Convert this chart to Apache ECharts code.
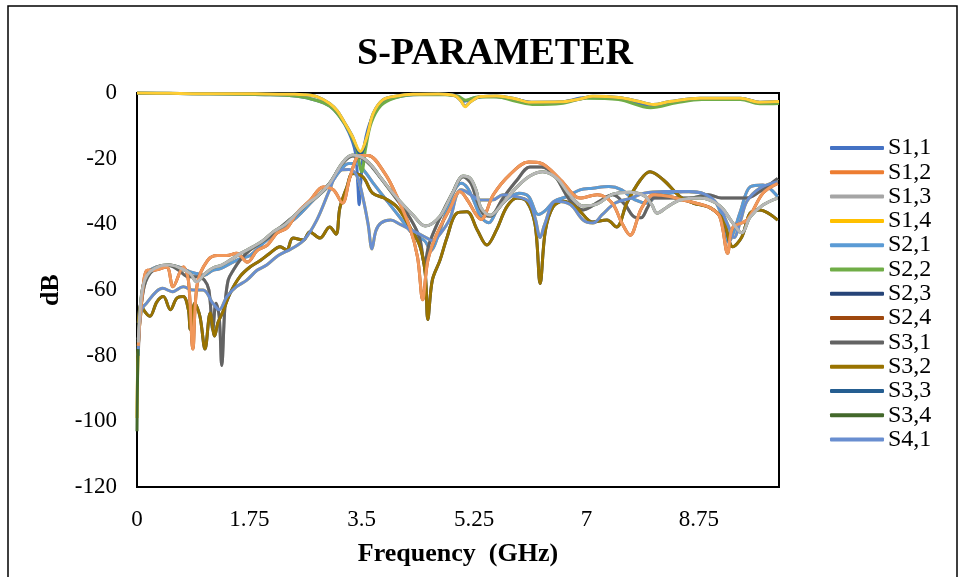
<!DOCTYPE html>
<html><head><meta charset="utf-8">
<script src="https://cdn.jsdelivr.net/npm/echarts@6/dist/echarts.min.js"></script>
<style>html,body{margin:0;padding:0;background:#fff}#c{width:960px;height:577px}</style>
</head><body><div id="c"></div>
<script>
// ---- Data (frequency in GHz, magnitude in dB) ----
const legendNames = ['S1,1','S1,2','S1,3','S1,4','S2,1','S2,2','S2,3','S2,4','S3,1','S3,2','S3,3','S3,4','S4,1'];
const xTicks = [0, 1.75, 3.5, 5.25, 7, 8.75];
const yTicks = [0, -20, -40, -60, -80, -100, -120];

// reflection curves
const S11 = [[0,-0.1],[1,-0.2],[2,-0.5],[2.5,-1],[2.8,-2.3],[3.0,-4],[3.15,-7],[3.3,-12],[3.4,-18],[3.44,-28],[3.46,-34],[3.49,-26],[3.55,-15],[3.65,-8],[3.8,-3.5],[4.0,-1.5],[4.3,-0.5],[4.8,-0.4],[5.0,-1.0],[5.1,-2.5],[5.25,-1.5],[5.5,-1],[5.9,-2],[6.2,-3],[6.6,-2.8],[7.0,-1.4],[7.5,-1.6],[8.0,-3.8],[8.4,-2.7],[8.8,-1.7],[9.4,-1.7],[9.7,-2.9],[10,-2.7]];
const S22 = [[0,-0.1],[1,-0.2],[2,-0.5],[2.5,-1],[2.8,-2.3],[3.0,-4],[3.15,-7],[3.3,-11.5],[3.42,-17],[3.5,-24],[3.56,-17],[3.65,-9],[3.8,-3.8],[4.0,-1.6],[4.3,-0.5],[4.8,-0.5],[5.0,-1],[5.12,-2.2],[5.3,-1.2],[5.6,-1.2],[5.9,-2.5],[6.2,-3.5],[6.6,-3.2],[7.0,-1.6],[7.5,-2],[8.0,-4.5],[8.4,-3],[8.8,-2],[9.4,-2],[9.7,-3.3],[10,-3.2]];
const S33 = [[0,0],[0.5,-0.1],[1,-0.2],[1.5,-0.2],[2,-0.3],[2.4,-0.4],[2.6,-0.5],[2.8,-1.1],[3.0,-3.2],[3.12,-5.5],[3.22,-8.6],[3.35,-13],[3.48,-18.5],[3.58,-13.4],[3.68,-6.2],[3.83,-2.1],[4.05,-0.9],[4.3,-0.4],[4.7,-0.3],[4.95,-0.8],[5.05,-2.5],[5.11,-4.0],[5.2,-2.6],[5.35,-1.1],[5.6,-0.9],[5.9,-1.8],[6.1,-2.8],[6.6,-2.7],[6.9,-1.8],[7.1,-1.0],[7.5,-1.4],[7.8,-2.5],[8.04,-3.5],[8.3,-2.6],[8.77,-1.6],[9.4,-1.6],[9.7,-2.8],[10,-2.6]];
const S44 = [[0,0],[0.5,-0.1],[1,-0.2],[1.5,-0.2],[2,-0.3],[2.4,-0.4],[2.6,-0.5],[2.8,-1.1],[3.0,-3.2],[3.12,-5.5],[3.22,-8.6],[3.35,-13],[3.48,-17.8],[3.58,-13.4],[3.68,-6.2],[3.83,-2.1],[4.05,-0.9],[4.3,-0.4],[4.7,-0.3],[4.95,-0.8],[5.05,-2.5],[5.11,-4.2],[5.2,-2.6],[5.35,-1.1],[5.6,-0.9],[5.9,-1.8],[6.1,-2.8],[6.6,-2.7],[6.9,-1.8],[7.1,-1.0],[7.5,-1.4],[7.8,-2.5],[8.04,-3.5],[8.3,-2.6],[8.77,-1.6],[9.4,-1.6],[9.7,-2.8],[10,-2.6]];

// transmission curves (reciprocal pairs share the same trace)
const P12 = [[0.02,-80],[0.07,-62],[0.15,-55],[0.3,-53],[0.5,-52.4],[0.65,-53],[0.83,-54.5],[0.93,-55],[1.05,-55.5],[1.18,-54],[1.3,-53.5],[1.45,-52],[1.6,-50.5],[1.76,-49.5],[1.95,-46],[2.2,-42],[2.49,-37.8],[2.75,-32.6],[3.0,-28],[3.15,-24],[3.3,-21.5],[3.42,-21.5],[3.55,-24],[3.7,-28],[3.9,-33],[4.1,-38],[4.3,-43],[4.48,-45],[4.58,-48],[4.68,-44],[4.82,-36],[4.95,-29.5],[5.05,-27.5],[5.15,-29],[5.25,-33],[5.35,-37.5],[5.48,-39.5],[5.6,-36],[5.75,-32.5],[5.95,-30.5],[6.1,-31.5],[6.25,-37],[6.35,-36],[6.5,-33],[6.7,-31.5],[6.9,-29.5],[7.1,-29],[7.35,-28.5],[7.55,-29.5],[7.75,-32.5],[7.95,-33.5],[8.1,-31],[8.3,-30.5],[8.6,-30],[8.8,-30.5],[9.0,-33],[9.12,-38],[9.22,-45.5],[9.3,-42],[9.4,-36],[9.55,-28.6],[9.75,-28],[9.98,-31.6]];
const P13 = [[0.02,-75],[0.1,-60],[0.2,-55],[0.36,-53],[0.5,-52.5],[0.65,-54],[0.8,-56],[0.95,-56],[1.05,-57],[1.12,-60],[1.18,-72],[1.23,-64],[1.28,-68],[1.32,-83],[1.37,-65],[1.42,-57],[1.5,-54],[1.6,-51],[1.75,-48],[1.9,-46],[2.05,-44],[2.2,-41.5],[2.35,-39],[2.5,-36.6],[2.65,-33.8],[2.8,-31.6],[3.0,-27.5],[3.2,-21.5],[3.36,-19.2],[3.52,-20],[3.66,-22.5],[3.8,-26],[4.05,-32.5],[4.25,-38],[4.4,-44],[4.48,-52],[4.55,-46],[4.72,-38],[4.9,-31],[5.08,-25.5],[5.2,-27.5],[5.3,-33],[5.4,-37],[5.5,-37.5],[5.7,-32],[5.92,-26.5],[6.12,-22.5],[6.3,-22.5],[6.5,-25],[6.74,-32.6],[6.95,-35.6],[7.2,-33],[7.41,-31],[7.6,-34],[7.75,-37.8],[7.85,-38],[7.95,-35],[8.05,-32],[8.3,-32],[8.6,-32],[8.9,-31],[9.1,-32],[9.3,-32],[9.5,-32],[9.7,-30],[9.98,-26]];
const P14 = [[0.02,-78],[0.07,-66],[0.15,-64],[0.3,-60.5],[0.4,-59.5],[0.55,-60.5],[0.72,-59],[0.87,-60],[1.03,-60],[1.18,-64],[1.28,-66],[1.4,-62],[1.55,-59],[1.71,-57],[1.87,-54],[2.02,-52.4],[2.2,-49.5],[2.4,-47.5],[2.6,-44.8],[2.8,-38.7],[3.0,-29.5],[3.15,-23.5],[3.3,-23.3],[3.42,-25],[3.52,-32],[3.6,-40],[3.66,-47.5],[3.72,-42],[3.8,-39.6],[3.95,-38.7],[4.1,-40],[4.3,-42],[4.5,-44],[4.6,-45],[4.72,-43],[4.88,-38],[4.98,-31],[5.05,-29.5],[5.2,-31],[5.35,-32.6],[5.55,-32.5],[5.7,-31],[5.9,-31.5],[6.1,-33],[6.2,-38],[6.28,-44],[6.35,-40],[6.52,-33],[6.75,-34],[6.95,-38.7],[7.1,-39.6],[7.25,-37],[7.45,-33.5],[7.7,-32],[7.9,-30.5],[8.2,-30],[8.5,-30],[8.8,-30.5],[9.05,-34],[9.2,-40],[9.3,-44],[9.4,-39],[9.5,-33],[9.7,-29],[9.98,-27]];
const P23 = [[0.02,-70],[0.06,-64],[0.1,-66],[0.2,-68],[0.31,-63.6],[0.41,-62],[0.52,-66],[0.62,-62.5],[0.72,-62],[0.8,-66],[0.83,-72],[0.9,-64],[0.98,-68],[1.06,-78],[1.14,-67],[1.21,-74],[1.26,-70],[1.33,-67],[1.45,-61],[1.6,-56],[1.76,-53],[1.92,-51],[2.07,-48.8],[2.23,-46.8],[2.33,-47.8],[2.43,-44.2],[2.59,-44.8],[2.69,-42.3],[2.85,-44.2],[3.0,-40.8],[3.1,-43],[3.16,-35],[3.27,-28.6],[3.36,-24.5],[3.52,-25.6],[3.67,-30.5],[3.85,-32],[4.05,-34.7],[4.25,-40.8],[4.41,-46.8],[4.49,-55],[4.53,-69],[4.6,-57],[4.72,-50.9],[4.83,-43.9],[4.98,-36.6],[5.14,-36.2],[5.3,-41.7],[5.45,-46.3],[5.6,-41.7],[5.76,-34.7],[5.92,-32],[6.07,-33],[6.2,-40],[6.28,-58],[6.36,-42],[6.48,-34.7],[6.64,-33],[6.85,-35],[7.1,-39.3],[7.32,-38.7],[7.47,-40.8],[7.63,-33.5],[7.84,-26.5],[7.99,-24],[8.2,-26.5],[8.46,-31.6],[8.66,-33.5],[8.93,-35],[9.13,-38.7],[9.28,-46.8],[9.42,-43.9],[9.55,-36.6],[9.7,-35.6],[9.98,-38.7]];
const P24 = [[0.02,-77],[0.08,-62],[0.16,-54],[0.25,-54],[0.46,-53],[0.56,-59],[0.72,-53],[0.8,-57],[0.87,-78],[0.94,-58],[1.1,-51],[1.25,-49.5],[1.4,-49.5],[1.55,-48.8],[1.72,-51.5],[1.87,-48],[2.03,-46.3],[2.18,-42.7],[2.34,-41],[2.49,-36.6],[2.7,-32.6],[2.9,-28.6],[3.06,-29.5],[3.2,-33.5],[3.32,-25.5],[3.47,-19],[3.6,-19],[3.86,-24.5],[4.05,-31.6],[4.25,-41],[4.37,-50],[4.45,-63],[4.53,-51],[4.67,-43],[4.88,-35],[5.03,-30],[5.16,-33],[5.28,-37],[5.36,-38.5],[5.55,-31],[5.8,-25],[6.1,-21],[6.28,-21.3],[6.6,-26.5],[6.9,-32],[7.17,-31],[7.4,-33.5],[7.55,-39.5],[7.68,-43.3],[7.86,-35],[8.05,-31],[8.3,-31.5],[8.5,-32.6],[8.7,-33.5],[8.93,-35],[9.08,-37.8],[9.2,-48.8],[9.28,-41],[9.5,-38.7],[9.75,-30.5],[9.98,-27.5]];
const P34 = [[0.02,-76],[0.06,-63],[0.12,-57],[0.2,-54.5],[0.36,-52.7],[0.51,-52.4],[0.67,-53.3],[0.83,-55],[0.93,-57.5],[1.06,-55],[1.18,-53.3],[1.32,-52.4],[1.45,-50.9],[1.6,-49],[1.81,-46.8],[1.96,-45],[2.12,-42.3],[2.31,-40],[2.49,-36.6],[2.65,-33.8],[2.8,-31.6],[3.0,-27.5],[3.21,-21],[3.36,-18.9],[3.52,-19.8],[3.66,-22.2],[3.79,-25.6],[4.05,-32],[4.3,-37.2],[4.49,-40.5],[4.72,-37.5],[4.92,-30.2],[5.08,-25.3],[5.19,-26],[5.28,-29.5],[5.36,-35],[5.5,-37.2],[5.7,-33.5],[5.92,-28.6],[6.12,-25.3],[6.32,-24],[6.54,-26],[6.74,-31],[6.95,-34.4],[7.17,-33.8],[7.41,-30.8],[7.68,-30.2],[7.91,-31.4],[8.02,-34.1],[8.1,-36.6],[8.26,-34.7],[8.46,-32.6],[8.77,-32],[9.08,-34.4],[9.28,-39.6],[9.42,-42.6],[9.55,-37.8],[9.75,-34.1],[9.98,-32]];
// distinct DC points seen at 0 GHz
const S14Start = [[0,-99]];
const S34Start = [[0,-103]];

// ---- Series definitions (order = drawing order) ----
const seriesDefs = [
  ['S1,1', S11, '#4472C4'],
  ['S1,2', P12, '#ED7D31'],
  ['S1,3', P13, '#A5A5A5'],
  ['S1,4', S14Start.concat(P14), '#FFC000'],
  ['S2,1', P12, '#5B9BD5'],
  ['S2,2', S22, '#70AD47'],
  ['S2,3', P23, '#264478'],
  ['S2,4', P24, '#9E480E'],
  ['S3,1', P13, '#636363'],
  ['S3,2', P23, '#997300'],
  ['S3,3', S33, '#255E91'],
  ['S3,4', S34Start.concat(P34), '#43682B'],
  ['S4,1', P14, '#698ED0'],
  ['S4,2', P24, '#F1975A'],
  ['S4,3', P34, '#B7B7B7'],
  ['S4,4', S44, '#FFCD33']
];

const FONT = '"Liberation Serif", "Times New Roman", serif';
const chart = echarts.init(document.getElementById('c'), null, {renderer: 'canvas'});
chart.setOption({
  animation: false,
  backgroundColor: '#fff',
  title: {
    text: 'S-PARAMETER', left: 490, top: 30, textAlign: 'center',
    textStyle: {fontFamily: FONT, fontWeight: 'bold', fontSize: 38, color: '#000'}
  },
  graphic: [{
    type: 'rect', silent: true, z: -10,
    shape: {x: 8, y: 6, width: 949, height: 600},
    style: {fill: 'none', stroke: '#000', lineWidth: 1.5}
  }],
  legend: {
    data: legendNames, orient: 'vertical', left: 830, top: 136, padding: 0,
    icon: 'roundRect', itemWidth: 54, itemHeight: 4, itemGap: 0.3,
    textStyle: {fontFamily: FONT, fontSize: 24, color: '#000', lineHeight: 24, padding: [0, 0, 0, -1]}
  },
  grid: {left: 137, top: 93, width: 642, height: 394, show: true, borderColor: '#000', borderWidth: 2, containLabel: false},
  xAxis: {
    type: 'value', min: 0, max: 10, interval: 1.75,
    axisLine: {show: true, onZero: false, lineStyle: {color: '#000', width: 2}},
    axisTick: {show: false}, splitLine: {show: false},
    axisLabel: {showMaxLabel: false, margin: 21, fontFamily: FONT, fontSize: 23, color: '#000',
      formatter: v => xTicks.includes(+v.toFixed(2)) ? String(v) : ''},
    name: 'Frequency  (GHz)', nameLocation: 'middle', nameGap: 54,
    nameTextStyle: {fontFamily: FONT, fontWeight: 'bold', fontSize: 26, color: '#000'}
  },
  yAxis: {
    type: 'value', min: -120, max: 0, interval: 20,
    axisLine: {show: true, lineStyle: {color: '#000', width: 2}},
    axisTick: {show: false}, splitLine: {show: false},
    axisLabel: {margin: 20, fontFamily: FONT, fontSize: 23, color: '#000',
      formatter: v => yTicks.includes(v) ? String(v) : ''},
    name: 'dB', nameLocation: 'middle', nameGap: 67, nameRotate: 90,
    nameTextStyle: {fontFamily: FONT, fontWeight: 'bold', fontSize: 26, color: '#000'}
  },
  series: seriesDefs.map(([name, data, color]) => ({
    name, type: 'line', data, smooth: 0.35, showSymbol: false, symbol: 'none', clip: false,
    lineStyle: {color, width: 3}, itemStyle: {color}
  }))
});
</script></body></html>
